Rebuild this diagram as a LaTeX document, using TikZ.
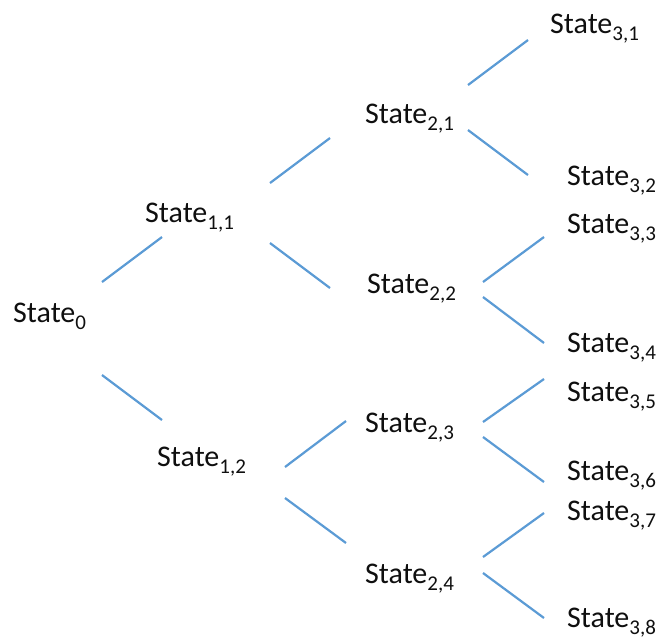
\documentclass[tikz,border=0pt]{standalone}
\usepackage{fontspec}
\setmainfont{Carlito}
\definecolor{branch}{RGB}{91,155,213}
\definecolor{txt}{RGB}{15,15,15}
\newcommand\subtx[1]{\raisebox{-7pt}{\fontsize{21}{21}\selectfont #1}}
\tikzset{
  state/.style={anchor=base west, inner sep=0pt, text=txt, font=\fontsize{30}{34}\selectfont},
  branchline/.style={draw=branch, line width=2.2pt}
}
\begin{document}
\begin{tikzpicture}[x=1pt,y=-1pt]
\fill[white] (0,0) rectangle (663,638);
\useasboundingbox (0,0) rectangle (663,638);
% nodes
\node[state] (s0)  at (13,322)  {State\subtx{0}};
\node[state] (s11) at (145,222) {State\subtx{1,1}};
\node[state] (s12) at (157,466) {State\subtx{1,2}};
\node[state] (s21) at (365,123) {State\subtx{2,1}};
\node[state] (s22) at (367,293) {State\subtx{2,2}};
\node[state] (s23) at (365,432) {State\subtx{2,3}};
\node[state] (s24) at (365,583) {State\subtx{2,4}};
\node[state] (s31) at (550,33)  {State\subtx{3,1}};
\node[state] (s32) at (567,185) {State\subtx{3,2}};
\node[state] (s33) at (567,233) {State\subtx{3,3}};
\node[state] (s34) at (567,352) {State\subtx{3,4}};
\node[state] (s35) at (567,401) {State\subtx{3,5}};
\node[state] (s36) at (567,480) {State\subtx{3,6}};
\node[state] (s37) at (567,520) {State\subtx{3,7}};
\node[state] (s38) at (567,627) {State\subtx{3,8}};
% connector end points
\coordinate (a1) at (102,282); \coordinate (b1) at (162,237);
\coordinate (a2) at (102,375); \coordinate (b2) at (162,420);
\coordinate (a3) at (270,183); \coordinate (b3) at (330,138);
\coordinate (a4) at (270,243); \coordinate (b4) at (330,288);
\coordinate (a5) at (285,467); \coordinate (b5) at (346,421);
\coordinate (a6) at (285,498); \coordinate (b6) at (346,543);
\coordinate (a7) at (468,85);  \coordinate (b7) at (528,40);
\coordinate (a8) at (468,130); \coordinate (b8) at (528,175);
\coordinate (a9) at (483,282); \coordinate (b9) at (544,237);
\coordinate (a10) at (483,297); \coordinate (b10) at (544,343);
\coordinate (a11) at (483,422); \coordinate (b11) at (544,379);
\coordinate (a12) at (483,437); \coordinate (b12) at (544,482);
\coordinate (a13) at (483,557); \coordinate (b13) at (544,513);
\coordinate (a14) at (483,573); \coordinate (b14) at (544,618);
\foreach \i in {1,...,14} { \draw[branchline] (a\i) -- (b\i); }
\end{tikzpicture}
\end{document}
